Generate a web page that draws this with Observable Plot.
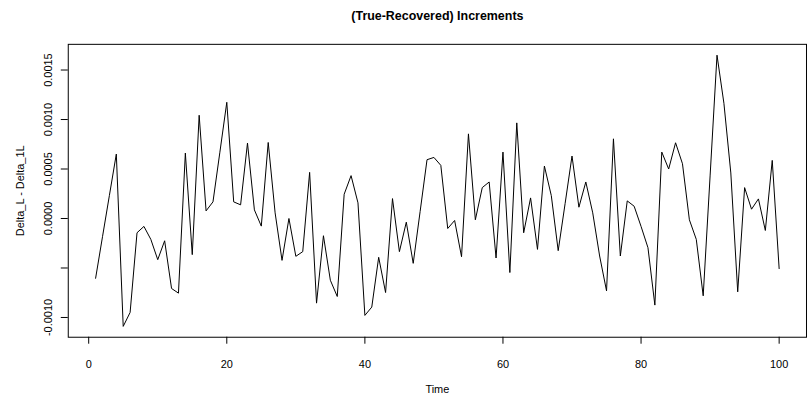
<!DOCTYPE html>
<html>
<head>
<meta charset="utf-8">
<script src="https://cdn.jsdelivr.net/npm/d3@7"></script>
<script src="https://cdn.jsdelivr.net/npm/@observablehq/plot@0.6"></script>
<style>
  html, body { margin: 0; padding: 0; background: #fff; overflow: hidden; }
  #chart svg { display: block; }
</style>
</head>
<body>
<div id="chart"></div>
<script>
// Time index
const time = d3.range(1, 101);
// Series values: (True - Recovered) increments
const increments = [
  -0.000604, -0.000184, 0.000234, 0.000651, -0.001090, -0.000949, -0.000144, -0.000080, -0.000211, -0.000416,
  -0.000225, -0.000707, -0.000754, 0.000661, -0.000365, 0.001043, 0.000077, 0.000168, 0.000670, 0.001174,
  0.000168, 0.000138, 0.000762, 0.000087, -0.000077, 0.000768, 0.000057, -0.000423, 0.000000, -0.000382,
  -0.000335, 0.000466, -0.000855, -0.000174, -0.000624, -0.000788, 0.000245, 0.000433, 0.000158, -0.000979,
  -0.000895, -0.000392, -0.000748, 0.000201, -0.000335, -0.000037, -0.000453, 0.000070, 0.000594, 0.000617,
  0.000537, -0.000101, -0.000020, -0.000386, 0.000855, -0.000013, 0.000312, 0.000369, -0.000399, 0.000671,
  -0.000546, 0.000966, -0.000144, 0.000208, -0.000312, 0.000530, 0.000231, -0.000325, 0.000150, 0.000631,
  0.000114, 0.000369, 0.000057, -0.000379, -0.000731, 0.000805, -0.000379, 0.000178, 0.000124, -0.000080,
  -0.000295, -0.000875, 0.000671, 0.000500, 0.000765, 0.000553, -0.000013, -0.000211, -0.000781, 0.000430,
  0.001650, 0.001164, 0.000460, -0.000741, 0.000312, 0.000094, 0.000198, -0.000121, 0.000587, -0.000506
];
// Tick values and labels (R drops the -0.0005 label because it would overlap)
const xTicks = [0, 20, 40, 60, 80, 100];
const xTickLabels = ["0", "20", "40", "60", "80", "100"];
const yTicks = [-0.0010, -0.0005, 0.0000, 0.0005, 0.0010, 0.0015];
const yTickLabels = ["-0.0010", "", "0.0000", "0.0005", "0.0010", "0.0015"];
const titleText = "(True-Recovered) Increments";
const xLabel = "Time";
const yLabel = "Delta_L - Delta_1L";

const data = time.map((t, i) => ({t, v: increments[i]}));

// R-style 4% padding of the data range
function pad(ext) { const p = (ext[1] - ext[0]) * 0.04; return [ext[0] - p, ext[1] + p]; }
const xDom = pad(d3.extent(time));
const yDom = pad(d3.extent(increments));

const font = "'Liberation Sans', Arial, Helvetica, sans-serif";

const chart = Plot.plot({
  width: 810,
  height: 401,
  marginLeft: 68,
  marginRight: 1,
  marginTop: 44,
  marginBottom: 63,
  style: { fontFamily: font, fontSize: "11px", color: "#000", background: "#fff", overflow: "visible" },
  x: { domain: xDom, label: null },
  y: { domain: yDom, label: null },
  marks: [
    Plot.frame({ stroke: "#000", strokeWidth: 1 }),
    Plot.axisX(xTicks, { tickSize: 7, tickFormat: () => "", stroke: "#000", label: null }),
    Plot.text(xTicks, { x: d => d, text: (d, i) => xTickLabels[i], frameAnchor: "bottom", dy: 27, lineAnchor: "middle", fontSize: 11, fill: "#000" }),
    Plot.axisY(yTicks, { tickSize: 7, tickFormat: () => "", stroke: "#000", label: null }),
    Plot.text(yTicks, { y: d => d, text: (d, i) => yTickLabels[i], frameAnchor: "left", dx: -20, rotate: -90, textAnchor: "middle", lineAnchor: "middle", fontSize: 11, fill: "#000" }),
    Plot.lineY(data, { x: "t", y: "v", stroke: "#000", strokeWidth: 1 }),
    Plot.text([titleText], { text: d => d, frameAnchor: "top", dy: -28.5, fontSize: 12.5, fontWeight: "bold", lineAnchor: "middle", fill: "#000" }),
    Plot.text([xLabel], { text: d => d, frameAnchor: "bottom", dy: 52, fontSize: 11, lineAnchor: "middle", fill: "#000" }),
    Plot.text([yLabel], { text: d => d, frameAnchor: "left", dx: -48, rotate: -90, fontSize: 11, lineAnchor: "middle", textAnchor: "middle", fill: "#000" })
  ]
});
document.getElementById("chart").appendChild(chart);
</script>
</body>
</html>
